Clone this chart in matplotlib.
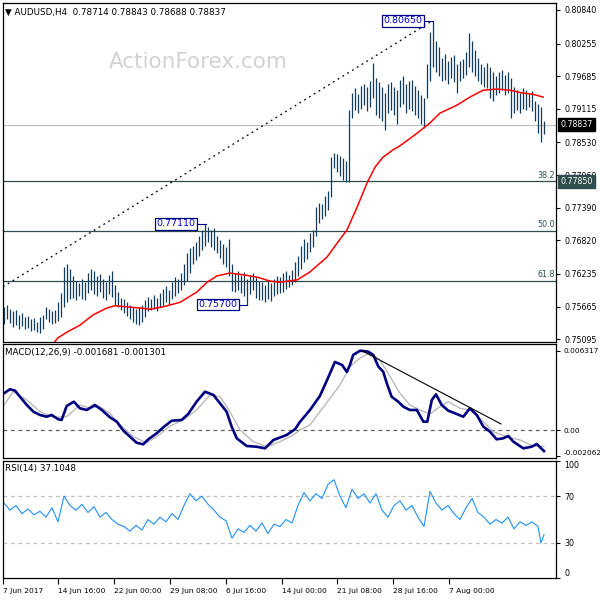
import numpy as np
import matplotlib.pyplot as plt
from matplotlib import transforms

# H4 bars (high / low), one per bar index
bar_high = [
    0.7566, 0.7570, 0.7562, 0.7558, 0.7560, 0.7552, 0.7555, 0.7548, 0.7550, 0.7544,
    0.7546, 0.7540, 0.7548, 0.7552, 0.7566, 0.7562, 0.7558, 0.7560, 0.7575, 0.7590,
    0.7636, 0.7640, 0.7632, 0.7620, 0.7612, 0.7608, 0.7615, 0.7610, 0.7625, 0.7632,
    0.7628, 0.7620, 0.7624, 0.7615, 0.7610, 0.7622, 0.7628, 0.7605, 0.7592, 0.7582,
    0.7580, 0.7575, 0.7570, 0.7566, 0.7562, 0.7566, 0.7570, 0.7578, 0.7584, 0.7580,
    0.7586, 0.7582, 0.7590, 0.7598, 0.7602, 0.7596, 0.7610, 0.7618, 0.7615, 0.7625,
    0.7640, 0.7660, 0.7668, 0.7672, 0.7680, 0.7690, 0.7700, 0.7711, 0.7705, 0.7700,
    0.7704, 0.7690, 0.7682, 0.7675, 0.7670, 0.7684, 0.7640, 0.7625, 0.7628, 0.7622,
    0.7626, 0.7615, 0.7620, 0.7625, 0.7618, 0.7612, 0.7610, 0.7605, 0.7612, 0.7608,
    0.7615, 0.7620, 0.7618, 0.7625, 0.7628, 0.7622, 0.7630, 0.7645, 0.7655, 0.7672,
    0.7685, 0.7680, 0.7695, 0.7700, 0.7740, 0.7748, 0.7745, 0.7760, 0.7768, 0.7828,
    0.7835, 0.7832, 0.7830, 0.7825, 0.7820, 0.7910, 0.7940, 0.7948, 0.7938, 0.7952,
    0.7955, 0.7950, 0.7960, 0.7992, 0.7965, 0.7958, 0.7950, 0.7940, 0.7955, 0.7958,
    0.7950, 0.7945, 0.7962, 0.7968, 0.7955, 0.7960, 0.7962, 0.7952, 0.7945, 0.7935,
    0.7930, 0.7990, 0.8045, 0.8065, 0.8030, 0.8020, 0.8000, 0.8008, 0.7995, 0.8002,
    0.8005, 0.7990, 0.7995, 0.7998, 0.8010, 0.8044, 0.8030, 0.8015, 0.8000, 0.7990,
    0.7985, 0.7992, 0.7985, 0.7975, 0.7968, 0.7975, 0.7980, 0.7970, 0.7975, 0.7965,
    0.7950, 0.7945, 0.7940, 0.7948, 0.7944, 0.7938, 0.7942, 0.7925, 0.7920, 0.7915,
    0.7890,
]
bar_low = [
    0.7536, 0.7545, 0.7538, 0.7531, 0.7535, 0.7528, 0.7533, 0.7527, 0.7530, 0.7524,
    0.7526, 0.7522, 0.7520, 0.7528, 0.7545, 0.7540, 0.7536, 0.7538, 0.7542, 0.7548,
    0.7566, 0.7575, 0.7580, 0.7582, 0.7578, 0.7585, 0.7580, 0.7578, 0.7590, 0.7596,
    0.7588, 0.7585, 0.7592, 0.7582, 0.7578, 0.7588, 0.7584, 0.7570, 0.7566, 0.7560,
    0.7556, 0.7550, 0.7545, 0.7540, 0.7536, 0.7534, 0.7540, 0.7548, 0.7558, 0.7560,
    0.7562, 0.7558, 0.7565, 0.7568, 0.7575, 0.7570, 0.7580, 0.7585, 0.7590, 0.7596,
    0.7605, 0.7612, 0.7625, 0.7640, 0.7648, 0.7655, 0.7665, 0.7672, 0.7680, 0.7670,
    0.7665, 0.7660, 0.7652, 0.7640, 0.7636, 0.7620, 0.7594, 0.7592, 0.7596, 0.7590,
    0.7585, 0.7570, 0.7588, 0.7595, 0.7582, 0.7578, 0.7578, 0.7575, 0.7580, 0.7576,
    0.7585, 0.7588, 0.7590, 0.7592, 0.7598, 0.7600, 0.7605, 0.7610, 0.7620, 0.7632,
    0.7645, 0.7650, 0.7662, 0.7670, 0.7690, 0.7712, 0.7720, 0.7725, 0.7735, 0.7758,
    0.7808, 0.7802, 0.7795, 0.7788, 0.7784, 0.7784, 0.7895, 0.7910, 0.7905, 0.7912,
    0.7918, 0.7908, 0.7915, 0.7930, 0.7900, 0.7895, 0.7890, 0.7875, 0.7905, 0.7910,
    0.7900, 0.7885, 0.7915, 0.7920, 0.7905, 0.7912, 0.7908, 0.7900, 0.7895, 0.7885,
    0.7878, 0.7930, 0.7960, 0.7985, 0.7975, 0.7968, 0.7960, 0.7962, 0.7955, 0.7965,
    0.7958, 0.7940, 0.7960, 0.7965, 0.7970, 0.7985, 0.7975, 0.7968, 0.7960, 0.7955,
    0.7950, 0.7948, 0.7930, 0.7925, 0.7935, 0.7940, 0.7945, 0.7935, 0.7940, 0.7895,
    0.7905, 0.7910, 0.7905, 0.7912, 0.7910, 0.7915, 0.7908, 0.7890, 0.7870, 0.7853,
    0.7868,
]

# moving average (red)
ma_idx = [16, 18, 21, 25.3, 29.7, 34.3, 37, 41, 45.3, 48.7, 53, 58.7, 64.3, 67.7,
          71, 75.3, 79.7, 84.3, 88.7, 92, 97.7, 102, 107.7, 111, 114.3, 117.7, 121,
          123.7, 126.3, 129.7, 132, 137.7, 142, 145.3, 151, 155.3, 159.7, 164.3,
          168.7, 173, 176.3, 179.7]
ma_val = [0.7499, 0.7512, 0.7522, 0.7534, 0.7552, 0.7564, 0.7568, 0.7566, 0.7564,
          0.7562, 0.7566, 0.7574, 0.7592, 0.7609, 0.7620, 0.7625, 0.7622, 0.7618,
          0.7611, 0.7609, 0.7613, 0.7627, 0.7653, 0.7677, 0.7700, 0.7740, 0.7782,
          0.7810, 0.7827, 0.7840, 0.7847, 0.7869, 0.7887, 0.7904, 0.7918, 0.7932,
          0.7944, 0.7946, 0.7944, 0.7939, 0.7937, 0.7932]

price_ticks = [0.80840, 0.80255, 0.79685, 0.79115, 0.78530, 0.77960, 0.77390,
               0.76820, 0.76235, 0.75665, 0.75095]
fib_levels = [0.77850, 0.76985, 0.76120]
fib_names = ['38.2', '50.0', '61.8']
last_price = 0.78837
swing_points = [(64, 0.77110, '0.77110'), (78, 0.75700, '0.75700'), (139.7, 0.80650, '0.80650')]
swing_bars = [67.3, 81, 143]
trend_x = [-0.33, 142.7]
trend_y = [0.7601, 0.8065]

# MACD main line (navy) and signal (silver)
macd_idx = [0, 2, 3.7, 5.3, 7.6, 9.8, 12, 14.2, 15.9, 18.1, 19.2, 20.9, 23.3, 25.3,
            27.6, 30.3, 32.6, 35.3, 37.6, 39.8, 42, 44.2, 46.4, 48.1, 50.9, 53.1,
            55.9, 59.2, 61.4, 64.2, 67, 69.8, 72, 74.2, 75.9, 77.6, 80.9, 84.2, 87,
            89.8, 94.2, 97, 98.7, 102, 105.3, 108, 110.3, 112.7, 114.3, 115.3, 116.4,
            118.7, 121.4, 123.1, 124.8, 126.4, 127.6, 129.2, 131.4, 133.1, 135.3,
            137.6, 139.8, 141.1, 142.6, 144, 145.9, 148.1, 150.3, 153.1, 155.3,
            157.6, 159.8, 162, 164.2, 166.4, 168.1, 169.8, 173.1, 175.9, 177.6, 180]
macd_val = [0.002925, 0.003244, 0.003132, 0.002654, 0.001993, 0.001459, 0.001196,
            0.001060, 0.001196, 0.000853, 0.000797, 0.001913, 0.002256, 0.001730,
            0.001594, 0.001993, 0.001594, 0.001012, 0.000662, -0.000056, -0.000534,
            -0.001012, -0.001140, -0.000741, -0.000263, 0.000215, 0.000741, 0.000797,
            0.001275, 0.002256, 0.003053, 0.002790, 0.002128, 0.001459, 0.000263,
            -0.000662, -0.001275, -0.001331, -0.001459, -0.000797, -0.000399,
            0.000056, 0.000662, 0.001594, 0.002710, 0.004144, 0.005420, 0.005180,
            0.004623, 0.005180, 0.005978, 0.006317, 0.006240, 0.005978, 0.005045,
            0.004647, 0.003722, 0.002654, 0.002256, 0.001857, 0.001594, 0.001594,
            0.000662, 0.000662, 0.002391, 0.002845, 0.001993, 0.001538, 0.001331,
            0.001060, 0.001730, 0.001196, 0.000263, -0.000135, -0.000741, -0.000662,
            -0.000478, -0.000932, -0.001459, -0.001331, -0.001116, -0.001681]
signal_idx = [0, 3.1, 7.6, 12, 16.4, 20.9, 25.3, 28.7, 32, 35.3, 38.7, 43.1, 47.6,
              50.9, 55.3, 59.8, 64.2, 68.7, 72, 75.3, 78.7, 83.1, 87.6, 92, 96.4,
              98.7, 102, 107, 112, 115.3, 118.7, 122, 125.3, 128.7, 132, 135.3,
              138.7, 142, 145.3, 148.1, 152, 155.3, 159.8, 163.1, 167.6, 172, 176.4,
              180]
signal_val = [0.001993, 0.003053, 0.002391, 0.001459, 0.001012, 0.001060, 0.001993,
              0.001730, 0.001857, 0.001331, 0.000399, -0.000534, -0.001012,
              -0.000534, 0.000319, 0.000797, 0.001594, 0.002790, 0.002654, 0.001459,
              0.000000, -0.000932, -0.001331, -0.000932, -0.000399, 0.000000,
              0.000399, 0.001993, 0.003587, 0.005045, 0.005738, 0.006161, 0.005579,
              0.004248, 0.002925, 0.001993, 0.001594, 0.001275, 0.001857, 0.002256,
              0.001730, 0.001594, 0.000662, -0.000135, -0.000534, -0.000797,
              -0.001275, -0.001301]
macd_trend_x = [119.3, 165.7]
macd_trend_y = [0.00632, 0.000478]
macd_ticks = [0.006317, 0.0, -0.002062]
macd_tick_labels = ['0.006317', '0.00', '-0.002062']

# RSI(14)
rsi_idx = list(range(0, 179, 2)) + [179, 180]
rsi_val = [64, 58, 62, 55, 59, 54, 57, 52, 60, 48,
           70, 62, 58, 63, 56, 61, 52, 56, 50, 46,
           44, 40, 45, 41, 50, 46, 52, 48, 55, 50,
           62, 72, 66, 70, 63, 58, 52, 49, 34, 42,
           39, 45, 40, 47, 38, 46, 44, 50, 47, 62,
           73, 66, 72, 68, 80, 84, 70, 60, 76, 68,
           72, 64, 72, 58, 52, 62, 66, 58, 62, 52,
           44, 74, 64, 58, 62, 55, 50, 60, 68, 56,
           52, 46, 50, 47, 52, 42, 48, 45, 48, 44,
           30, 37]
rsi_ticks = [100, 70, 30, 0]

date_pos = [-0.33, 18.1, 36.7, 55.3, 74, 92.7, 111, 129.7, 148.3]
date_labels = ['7 Jun 2017', '14 Jun 16:00', '22 Jun 00:00', '29 Jun 08:00',
               '6 Jul 16:00', '14 Jul 00:00', '21 Jul 08:00', '28 Jul 16:00',
               '7 Aug 00:00']

BAR = '#143c5a'
FIB = '#2f4f4f'
FS = 6.3      # captions
FS_Y = 5.7    # right-hand scale
FS_X = 5.4    # time scale

plt.rcParams['font.family'] = ['DejaVu Sans']
plt.rcParams['font.size'] = FS

fig = plt.figure(figsize=(6, 6), dpi=100)


def px_box(x0, y0, x1, y1):
    return [x0 / 600, 1 - y1 / 600, (x1 - x0) / 600, (y1 - y0) / 600]


ax = fig.add_axes(px_box(3, 3, 556, 342))
ax_macd = fig.add_axes(px_box(3, 344, 556, 458), sharex=ax)
ax_rsi = fig.add_axes(px_box(3, 461, 556, 578), sharex=ax)

for a in (ax, ax_macd, ax_rsi):
    for s in a.spines.values():
        s.set_color('black')
        s.set_linewidth(0.9)
    a.yaxis.tick_right()
    a.tick_params(axis='y', length=3, width=0.8, pad=3, labelsize=FS_Y, colors='black')
    a.tick_params(axis='x', bottom=False, labelbottom=False)

# ---- main price panel ----
idx = np.arange(len(bar_high))
ax.set_xlim(-0.33, 184)
ax.set_ylim(0.75047, 0.80962)
ax.axhline(last_price, color='#c0c0c0', lw=0.9, zorder=1)
for lv, nm in zip(fib_levels, fib_names):
    ax.axhline(lv, color=FIB, lw=0.9, zorder=1)
    ax.text(183.6, lv + 0.0003, nm, ha='right', va='bottom', color=FIB, fontsize=5.8)
ax.plot(trend_x, trend_y, color='black', lw=0.9, ls=(0, (1.5, 3)), zorder=2)
ax.vlines(idx, bar_low, bar_high, color=BAR, lw=0.9, zorder=3)
ax.plot(ma_idx, ma_val, color='red', lw=1.1, zorder=4)

for (tx, ty, lab), bx in zip(swing_points, swing_bars):
    ax.plot([tx, bx], [ty, ty], color='#000080', lw=0.8, zorder=5)
    ax.text(tx - 0.3, ty, lab, ha='right', va='center', color='#0000cd', fontsize=6.8,
            zorder=6, bbox=dict(boxstyle='square,pad=0.15', fc='white', ec='#000080', lw=0.9))

ax.text(0.353, 0.826, 'ActionForex.com', transform=ax.transAxes, ha='center',
        va='center', fontsize=15.5, color='#d2d2d2', zorder=0)

ax.set_yticks(price_ticks)
ax.set_yticklabels([f'{v:.5f}' for v in price_ticks])
blend = transforms.blended_transform_factory(ax.transAxes, ax.transData)
ax.text(1.008, last_price, f'{last_price:.5f}', transform=blend, ha='left', va='center',
        color='white', fontsize=FS_Y, clip_on=False,
        bbox=dict(boxstyle='square,pad=0.25', fc='black', ec='black'))
ax.text(1.008, fib_levels[0], f'{fib_levels[0]:.5f}', transform=blend, ha='left',
        va='center', color='white', fontsize=FS_Y, clip_on=False,
        bbox=dict(boxstyle='square,pad=0.25', fc=FIB, ec=FIB))

# ---- MACD panel ----
ax_macd.set_ylim(-0.00223, 0.00685)
ax_macd.axhline(0, color='#606060', lw=0.9, ls=(0, (3, 3)))
ax_macd.plot(signal_idx, signal_val, color='#b4b4b4', lw=0.9)
ax_macd.plot(macd_idx, macd_val, color='#000080', lw=1.9)
ax_macd.plot(macd_trend_x, macd_trend_y, color='black', lw=0.8)
ax_macd.set_yticks(macd_ticks)
ax_macd.set_yticklabels(macd_tick_labels)
ax_macd.tick_params(axis='y', labelsize=5.3, pad=2.5)
ax_macd.get_yticklabels()[2].set_va('bottom')

# ---- RSI panel ----
ax_rsi.set_ylim(0, 100)
for lv in (70, 30):
    ax_rsi.axhline(lv, color='#c0c0c0', lw=0.9, ls=(0, (3, 3)))
ax_rsi.plot(rsi_idx, rsi_val, color='#1e90ff', lw=0.8)
ax_rsi.set_yticks(rsi_ticks)
ax_rsi.set_yticklabels([str(v) for v in rsi_ticks])
ax_rsi.get_yticklabels()[0].set_va('top')
ax_rsi.get_yticklabels()[3].set_va('bottom')

ax_rsi.set_xticks(date_pos)
ax_rsi.set_xticklabels(date_labels, ha='left')
ax_rsi.tick_params(axis='x', bottom=True, labelbottom=True, length=4, width=0.8,
                   pad=3, labelsize=FS_X)

# ---- panel captions ----
fig.text(5 / 600, 1 - 12 / 600, '\u25bc AUDUSD,H4  0.78714 0.78843 0.78688 0.78837',
         va='center', ha='left', fontsize=FS)
fig.text(5 / 600, 1 - 352 / 600, 'MACD(12,26,9) -0.001681 -0.001301',
         va='center', ha='left', fontsize=FS)
fig.text(5 / 600, 1 - 469 / 600, 'RSI(14) 37.1048', va='center', ha='left', fontsize=FS)

fig.savefig('out.png', dpi=100)
